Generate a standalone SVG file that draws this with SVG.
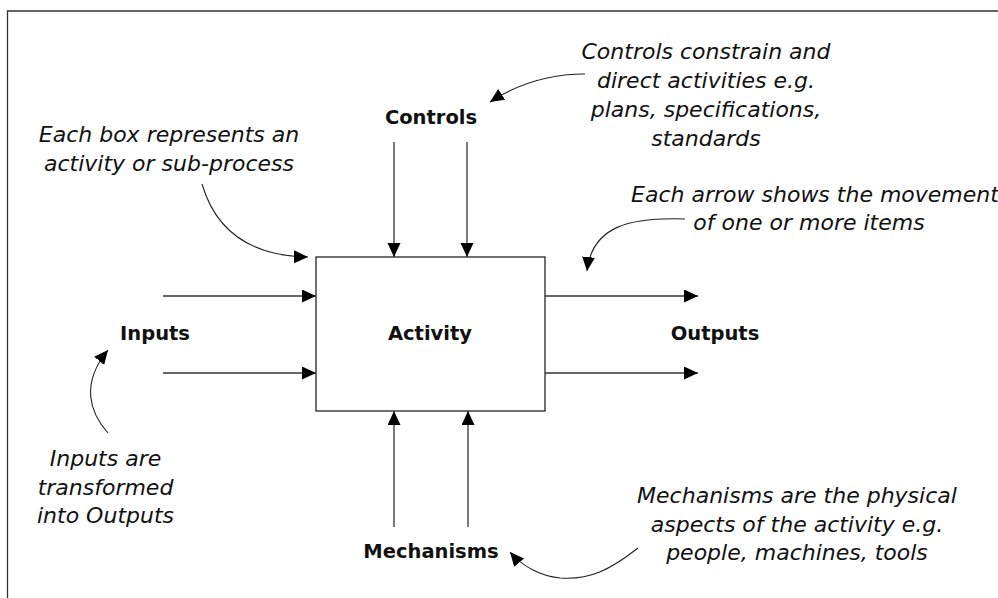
<svg xmlns="http://www.w3.org/2000/svg" width="998" height="598" viewBox="0 0 998 598">
  <style>
    .label { font-family: "DejaVu Sans", Verdana, sans-serif; font-weight: bold; font-size: 19.5px; fill: #111; text-anchor: middle; }
    .note { font-family: "DejaVu Sans", Verdana, sans-serif; font-style: italic; font-size: 22px; fill: #111; text-anchor: middle; }
    .flow { stroke: #333; stroke-width: 1.3; fill: none; marker-end: url(#head); }
    .callout { stroke: #222; stroke-width: 1.1; fill: none; marker-end: url(#head); }
    .frame { stroke: #333; stroke-width: 1.3; fill: none; }
  </style>
  <defs>
    <marker id="head" markerUnits="userSpaceOnUse" markerWidth="15" markerHeight="14" refX="14" refY="6.5" orient="auto">
      <path d="M0,0 L14,6.5 L0,13 z" fill="#000"/>
    </marker>
  </defs>

  <rect width="998" height="598" fill="#fff"/>

  <!-- page frame: top and left edges -->
  <path class="frame" d="M998,11 H7.5 V598"/>

  <g id="activity">
    <rect x="316" y="257" width="229" height="154" fill="#fff" stroke="#111" stroke-width="1.2"/>
    <text class="label" x="430" y="340">Activity</text>
  </g>

  <g id="inputs">
    <text class="label" x="155" y="340">Inputs</text>
  </g>

  <g id="outputs">
    <text class="label" x="715" y="340">Outputs</text>
  </g>

  <g id="controls">
    <text class="label" x="431" y="124">Controls</text>
  </g>

  <g id="mechanisms">
    <text class="label" x="431" y="558">Mechanisms</text>
  </g>

  <g id="note-controls">
    <text class="note" x="706" y="59">Controls constrain and</text>
    <text class="note" x="706" y="88">direct activities e.g.</text>
    <text class="note" x="706" y="117">plans, specifications,</text>
    <text class="note" x="706" y="146">standards</text>
  </g>

  <g id="note-box">
    <text class="note" x="169" y="142">Each box represents an</text>
    <text class="note" x="169" y="171">activity or sub-process</text>
  </g>

  <g id="note-arrow">
    <text class="note" x="815" y="202" font-size="21">Each arrow shows the movement</text>
    <text class="note" x="809" y="230">of one or more items</text>
  </g>

  <g id="note-inputs">
    <text class="note" x="105.5" y="466">Inputs are</text>
    <text class="note" x="105.5" y="495">transformed</text>
    <text class="note" x="105.5" y="523">into Outputs</text>
  </g>

  <g id="note-mechanisms">
    <text class="note" x="797" y="503">Mechanisms are the physical</text>
    <text class="note" x="797" y="532">aspects of the activity e.g.</text>
    <text class="note" x="797" y="560">people, machines, tools</text>
  </g>

  <g id="connectors">
    <!-- inputs -->
    <line class="flow" x1="163" y1="296" x2="316" y2="296"/>
    <line class="flow" x1="163" y1="373" x2="316" y2="373"/>
    <!-- outputs -->
    <line class="flow" x1="545" y1="296" x2="698" y2="296"/>
    <line class="flow" x1="545" y1="373" x2="698" y2="373"/>
    <!-- controls -->
    <line class="flow" x1="394" y1="142" x2="394" y2="257"/>
    <line class="flow" x1="467" y1="142" x2="467" y2="257"/>
    <!-- mechanisms -->
    <line class="flow" x1="394" y1="527" x2="394" y2="411"/>
    <line class="flow" x1="468" y1="527" x2="468" y2="411"/>

    <!-- callouts -->
    <path class="callout" d="M585,74 C553,74 522,81 490,102"/>
    <path class="callout" d="M202,184 C216,232 252,256 308,257"/>
    <path class="callout" d="M685,219 C630,217 592,226 587,271"/>
    <path class="callout" d="M108,433 C90,413 80,384 108,350"/>
    <path class="callout" d="M638,548 C610,570 590,580 560,578 C540,576 522,566 510,552"/>
  </g>
</svg>
